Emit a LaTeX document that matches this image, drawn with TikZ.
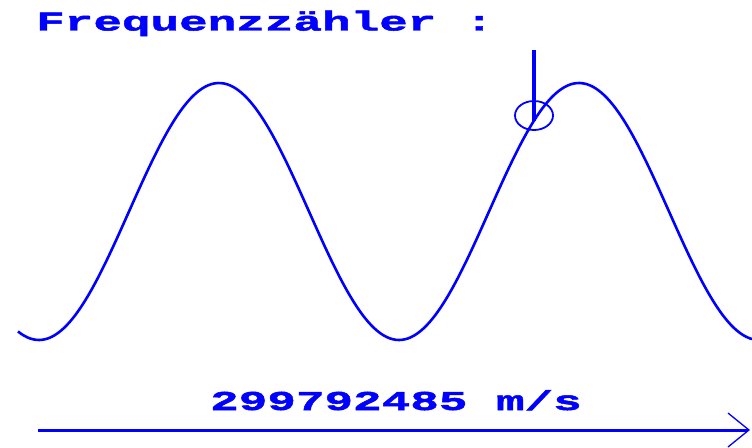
\documentclass[tikz,border=0pt]{standalone}
\usepackage{fontspec}
\usepackage{tikz}
\usetikzlibrary{arrows.meta,shapes.geometric}
\newfontfamily\pixfont[FakeStretch=1.745,BoldFeatures={FakeBold=1.8}]{Liberation Mono}
\definecolor{screenblue}{RGB}{0,0,255}
\tikzset{
  pixtext/.style={
    text=screenblue,anchor=base west,inner sep=0pt,
    font=\pixfont\bfseries\fontsize{27.3}{30}\selectfont
  },
  waveline/.style={draw=screenblue,line width=2.6pt,line join=round},
  probeline/.style={draw=screenblue,line width=3.6pt},
  markring/.style={ellipse,draw=screenblue,line width=1.8pt,
    minimum width=38pt,minimum height=29pt,inner sep=0pt},
  speedarrow/.style={draw=screenblue,line width=3pt,
    -{Straight Barb[length=21pt,width=34pt,line width=1.3pt]}}
}

\begin{document}
\begin{tikzpicture}[x=1pt,y=-1pt]
  \useasboundingbox (0,0) rectangle (752,447);
  % title and measured value
  \node[pixtext] (title) at (36,30.5) {Frequenzzähler :};
  \node[pixtext] (speed) at (210,410) {299792485 m/s};
  % signal
  \draw[waveline] plot[domain=18:752,samples=240,smooth]
    (\x,{211.5+128.5*cos(\x-39)});
  % trigger point on the rising edge
  \coordinate (probe) at (534,50);
  \coordinate (hit) at (534,120.6);
  \node[markring] (mark) at (534,115.5) {};
  \draw[probeline] (probe) -- (hit);
  % propagation
  \coordinate (start) at (38,430);
  \coordinate (end) at (750,430);
  \draw[speedarrow] (start) -- (end);
\end{tikzpicture}
\end{document}
